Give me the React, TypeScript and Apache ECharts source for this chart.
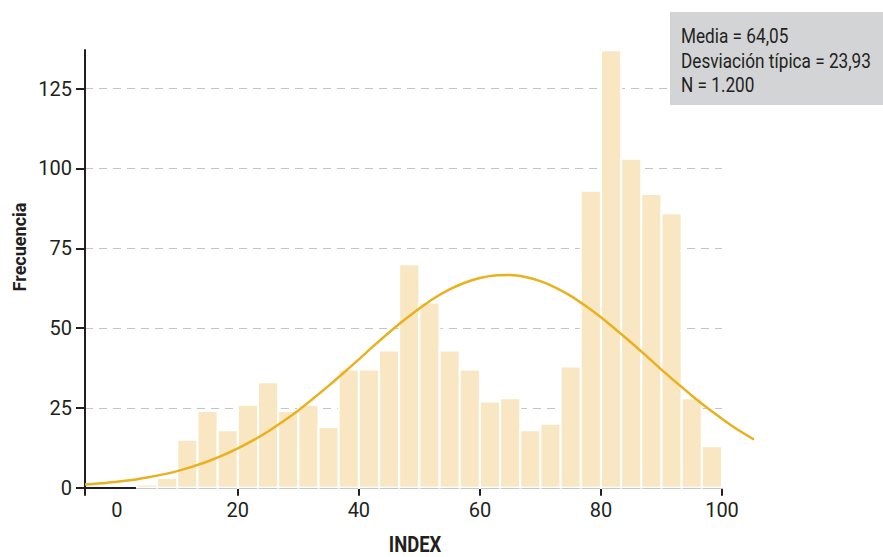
import React, { useEffect, useRef } from "react";
import * as echarts from "echarts";

// Histogram counts per bin (bins of width 100/30 starting at 0)
const binCounts = [0, 1, 3, 15, 24, 18, 26, 33, 24, 26, 19, 37, 37, 43, 70, 58, 43, 37, 27, 28, 18, 20, 38, 93, 137, 103, 92, 86, 28, 13];
const binWidth = 100 / 30;

// Fitted normal curve
const curveX = [-5.25, -2.5, 0, 2.5, 5, 7.5, 10, 12.5, 15, 17.5, 20, 22.5, 25, 27.5, 30, 32.5, 35, 37.5, 40, 42.5, 45, 47.5, 50, 52.5, 55, 57.5, 60, 62.5, 65, 67.5, 70, 72.5, 75, 77.5, 80, 82.5, 85, 87.5, 90, 92.5, 95, 97.5, 100, 102.5, 105.3];
const curveY = [1.0, 1.4, 1.9, 2.4, 3.2, 4.1, 5.2, 6.6, 8.2, 10.1, 12.3, 14.8, 17.6, 20.8, 24.2, 28.0, 31.9, 36.0, 40.2, 44.5, 48.6, 52.5, 56.1, 59.4, 62.1, 64.2, 65.7, 66.5, 66.6, 66.0, 64.7, 62.7, 60.1, 56.9, 53.4, 49.5, 45.5, 41.3, 37.0, 32.9, 28.9, 25.1, 21.6, 18.3, 15.1];

const xLabels = [0, 20, 40, 60, 80, 100];
const xTicks = [-5.25, 20, 40, 60, 80, 100];
const yLabels = [0, 25, 50, 75, 100, 125];

const statsLines = ["Media = 64,05", "Desviación típica = 23,93", "N = 1.200"];

const FONT = "Roboto, 'Liberation Sans', sans-serif";
const DARK = "#231F20";

export default function App() {
  const ref = useRef<HTMLDivElement>(null);

  useEffect(() => {
    if (!ref.current) return;
    const chart = echarts.init(ref.current, undefined, { renderer: "svg" });

    const histData = binCounts.map((c, i) => [i * binWidth, (i + 1) * binWidth, c]);
    const curveData = curveX.map((x, i) => [x, curveY[i]]);

    chart.setOption({
      animation: false,
      backgroundColor: "#ffffff",
      grid: [
        { left: 85, right: 161, top: 50, bottom: 69.3, containLabel: false },
        { left: 85, right: 129, top: 50, bottom: 69.3, containLabel: false },
      ],
      xAxis: [
        {
          type: "value",
          gridIndex: 0,
          min: -5.25,
          max: 100,
          axisLine: { show: true, onZero: false, lineStyle: { color: DARK, width: 2 } },
          axisTick: { show: true, customValues: xTicks, length: 8, lineStyle: { color: DARK, width: 2 } },
          axisLabel: {
            customValues: xLabels,
            color: DARK,
            fontFamily: FONT,
            fontSize: 20,
            margin: 12,
          },
          splitLine: { show: false },
        },
        {
          type: "value",
          gridIndex: 1,
          min: -5.25,
          max: 105.3,
          show: false,
        },
      ],
      yAxis: [
        {
          type: "value",
          gridIndex: 0,
          min: 0,
          max: 137.1,
          interval: 25,
          axisLine: { show: true, onZero: false, lineStyle: { color: DARK, width: 2 } },
          axisTick: { show: true, customValues: yLabels, length: 9, lineStyle: { color: DARK, width: 2 } },
          axisLabel: {
            customValues: yLabels,
            color: DARK,
            fontFamily: FONT,
            fontSize: 20,
            margin: 13,
          },
          splitLine: {
            show: true,
            showMinLine: false,
            lineStyle: { color: "#C4C4C4", type: [8, 6], width: 1 },
          },
        },
        {
          type: "value",
          gridIndex: 1,
          min: 0,
          max: 137.1,
          show: false,
        },
      ],
      graphic: [
        {
          type: "rect",
          shape: { x: 670, y: 12, width: 213, height: 93 },
          style: { fill: "#D3D4D6" },
          z: 10,
        },
        ...statsLines.map((t, i) => ({
          type: "text",
          x: 681,
          y: 37 + i * 24.5,
          scaleX: 0.86,
          z: 11,
          style: {
            text: t,
            fill: DARK,
            font: `20px ${FONT}`,
            textAlign: "left",
            textVerticalAlign: "middle",
          },
        })),
        {
          type: "text",
          x: 19,
          y: 247,
          rotation: Math.PI / 2,
          style: {
            text: "Frecuencia",
            fill: DARK,
            font: `bold 18px ${FONT}`,
            textAlign: "center",
            textVerticalAlign: "middle",
          },
        },
        {
          type: "text",
          x: 415,
          y: 544,
          scaleX: 0.84,
          style: {
            text: "INDEX",
            fill: DARK,
            font: `bold 22px ${FONT}`,
            textAlign: "center",
            textVerticalAlign: "middle",
          },
        },
      ],
      series: [
        {
          type: "custom",
          xAxisIndex: 0,
          yAxisIndex: 0,
          encode: { x: [0, 1], y: 2 },
          data: histData,
          z: 1,
          renderItem: (params: any, api: any) => {
            const start = api.value(0);
            const end = api.value(1);
            const count = api.value(2);
            if (!count) return null;
            const p0 = api.coord([start, count]);
            const p1 = api.coord([end, 0]);
            return {
              type: "rect",
              shape: { x: p0[0], y: p0[1], width: p1[0] - p0[0], height: p1[1] - p0[1] },
              style: { fill: "#F9E7C3", stroke: "#ffffff", lineWidth: 2 },
            };
          },
        },
        {
          type: "line",
          xAxisIndex: 1,
          yAxisIndex: 1,
          data: curveData,
          smooth: 0.3,
          showSymbol: false,
          symbol: "none",
          clip: false,
          z: 5,
          lineStyle: { color: "#EAB11E", width: 2.5 },
        },
      ],
    });

    return () => {
      chart.dispose();
    };
  }, []);

  return (
    <div
      ref={ref}
      style={{ position: "absolute", left: 0, top: 0, width: 883, height: 557 }}
    />
  );
}
